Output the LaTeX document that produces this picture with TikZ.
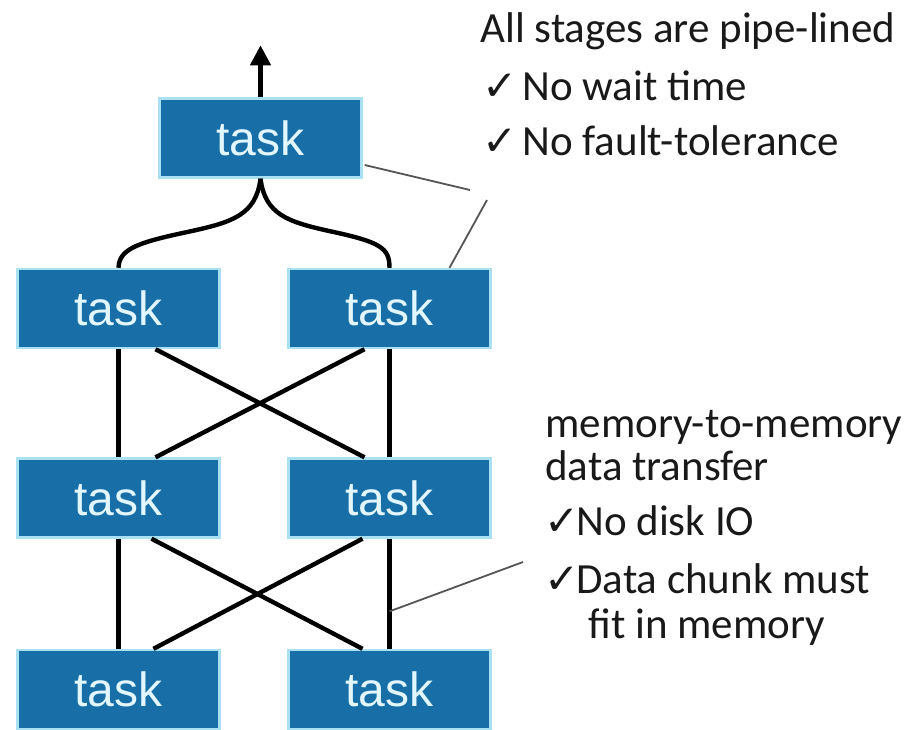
\documentclass[tikz,border=0pt]{standalone}
\usepackage{fontspec}
\setmainfont{Carlito}
\newfontfamily\boxfont{Liberation Sans}
\newfontfamily\checkfont{DejaVu Sans}
\usepackage{tikz}
\usetikzlibrary{arrows.meta,calc}
\definecolor{taskblue}{RGB}{24,110,166}
\definecolor{taskedge}{RGB}{170,225,242}
\definecolor{tasktext}{RGB}{225,246,255}
\definecolor{notegray}{RGB}{85,85,85}
\newcommand{\chk}[1]{\makebox[#1][l]{\checkfont\fontsize{21}{24}\selectfont ✓}}

\begin{document}
\begin{tikzpicture}[x=0.5pt,y=-0.5pt,
  task/.style={rectangle,fill=taskblue,draw=taskedge,line width=1.2pt,
    minimum width=101pt,minimum height=39.5pt,inner sep=0pt,text=tasktext,
    font=\boxfont\fontsize{24}{28}\selectfont},
  link/.style={line width=2.2pt,black},
  note/.style={anchor=base west,inner sep=0pt,text=black!90,
    font=\fontsize{21.5}{25}\selectfont},
  pointer/.style={line width=0.9pt,notegray}]
  \useasboundingbox (0,0) rectangle (913,729);

  \node[task] (top) at (260.5,138) {task};
  \node[task] (l1) at (118.5,308.5) {task};
  \node[task] (r1) at (389.5,308.5) {task};
  \node[task] (l2) at (118.5,498) {task};
  \node[task] (r2) at (389.5,498) {task};
  \node[task] (l3) at (118.5,689.5) {task};
  \node[task] (r3) at (389.5,689.5) {task};

  \coordinate (out) at ($(top.north)+(0,-52)$);
  \draw[link,-{Triangle[length=10pt,width=10pt]}] (top.north) -- (out);

  \draw[link] (top.south) .. controls (256,215) and (232,222) .. (192,231)
    .. controls (140,242) and (119,248) .. (l1.north);
  \draw[link] (top.south) .. controls (265,215) and (289,222) .. (329,231)
    .. controls (381,242) and (389.5,248) .. (r1.north);

  \draw[link] (l1.south) -- (l2.north);
  \draw[link] (r1.south) -- (r2.north);
  \draw[link] ($(l1.south)+(37,0)$) -- ($(r2.north)+(-25,0)$);
  \draw[link] ($(r1.south)+(-25,0)$) -- ($(l2.north)+(37,0)$);

  \draw[link] (l2.south) -- (l3.north);
  \draw[link] (r2.south) -- (r3.north);
  \draw[link] ($(l2.south)+(33,0)$) -- ($(r3.north)+(-27,0)$);
  \draw[link] ($(r2.south)+(-27,0)$) -- ($(l3.north)+(35,0)$);

  \coordinate (tipA) at (470,190);
  \coordinate (tipB) at (487,200);
  \coordinate (hook) at ($(r2.south)!0.66!(r3.north)$);
  \coordinate (tipC) at (523,562);
  \draw[pointer] ($(top.east)+(2,27)$) -- (tipA);
  \draw[pointer] ($(r1.north)+(60,0)$) -- (tipB);
  \draw[pointer] (hook) -- (tipC);

  \node[note] (stages) at (480,42) {All stages are pipe-lined};
  \node[note] (wait) at (482,100) {\chk{20pt}No wait time};
  \node[note] (fault) at (482,155) {\chk{20pt}No fault-tolerance};
  \node[note] (mem) at (545,437) {memory-to-memory};
  \node[note] (xfer) at (545,480) {data transfer};
  \node[note] (disk) at (544,535) {\chk{16pt}No disk IO};
  \node[note] (chunk) at (544,593) {\chk{16pt}Data chunk must};
  \node[note] (fit) at (588,638) {fit in memory};
\end{tikzpicture}
\end{document}
